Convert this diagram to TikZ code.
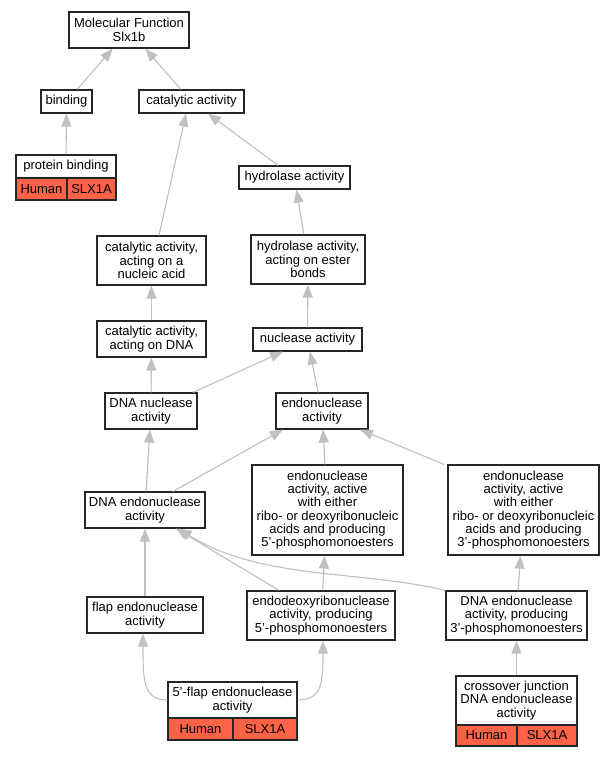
\documentclass[tikz,border=0pt]{standalone}
\usepackage{fontspec}
\setmainfont{Liberation Sans}
\usetikzlibrary{arrows.meta}
\definecolor{edgegray}{HTML}{C0C0C0}
\definecolor{cellred}{HTML}{FF6347}
\begin{document}
\begin{tikzpicture}[x=1pt,y=-1pt,
 box/.style={draw=black!85,line width=1.2pt,fill=white,inner sep=0pt,align=center,font=\fontsize{13}{13.33}\selectfont},
 cell/.style={box,fill=cellred},
 edge/.style={draw=edgegray,line width=1.1pt,-{Triangle[length=13pt,width=10pt]}}
]
\useasboundingbox (0,0) rectangle (613,757);
\fill[white] (0,0) rectangle (613,757);

% nodes
\node[box,minimum width=120pt,minimum height=36pt] (mf) at (129,30) {Molecular Function\\Slx1b};
\node[box,minimum width=51pt,minimum height=23pt] (bind) at (66.5,101.5) {binding};
\node[box,minimum width=105pt,minimum height=23pt] (cat) at (191.5,101.5) {catalytic activity};
\node[box,minimum width=100pt,minimum height=23pt] (pb) at (66,166.5) {protein binding};
\node[cell,minimum width=51pt,minimum height=22pt] (pbh) at (41.5,189) {Human};
\node[cell,minimum width=49pt,minimum height=22pt] (pbs) at (91.5,189) {SLX1A};
\node[box,minimum width=111pt,minimum height=23pt] (hyd) at (294.5,177.5) {hydrolase activity};
\node[box,minimum width=114pt,minimum height=49pt] (ester) at (308,259.5) {hydrolase activity,\\acting on ester\\bonds};
\node[box,minimum width=109pt,minimum height=49pt] (cna) at (151.5,260.5) {catalytic activity,\\acting on a\\nucleic acid};
\node[box,minimum width=109pt,minimum height=36pt] (cdna) at (151.5,339) {catalytic activity,\\acting on DNA};
\node[box,minimum width=109pt,minimum height=23pt] (nuc) at (307.5,339.5) {nuclease activity};
\node[box,minimum width=92pt,minimum height=36pt] (dnanuc) at (151,411) {DNA nuclease\\activity};
\node[box,minimum width=92pt,minimum height=36pt] (endo) at (322,411) {endonuclease\\activity};
\node[box,minimum width=120pt,minimum height=36pt] (dnaendo) at (145,510) {DNA endonuclease\\activity};
\node[box,minimum width=151pt,minimum height=90pt] (e5) at (327.5,510) {endonuclease\\activity, active\\with either\\ribo- or deoxyribonucleic\\acids and producing\\5'-phosphomonoesters};
\node[box,minimum width=151pt,minimum height=90pt] (e3) at (523.5,510) {endonuclease\\activity, active\\with either\\ribo- or deoxyribonucleic\\acids and producing\\3'-phosphomonoesters};
\node[box,minimum width=116pt,minimum height=36pt] (flap) at (145,615) {flap endonuclease\\activity};
\node[box,minimum width=148pt,minimum height=49pt] (ed5) at (321,615.5) {endodeoxyribonuclease\\activity, producing\\5'-phosphomonoesters};
\node[box,minimum width=141pt,minimum height=49pt] (d3) at (516.5,615.5) {DNA endonuclease\\activity, producing\\3'-phosphomonoesters};
\node[box,minimum width=129pt,minimum height=36pt] (f5) at (232.5,700) {5'-flap endonuclease\\activity};
\node[cell,minimum width=65pt,minimum height=22pt] (f5h) at (200.5,729) {Human};
\node[cell,minimum width=64pt,minimum height=22pt] (f5s) at (265,729) {SLX1A};
\node[box,minimum width=121pt,minimum height=49pt] (cj) at (516.5,700.5) {crossover junction\\DNA endonuclease\\activity};
\node[cell,minimum width=61pt,minimum height=21pt] (cjh) at (486.5,735.5) {Human};
\node[cell,minimum width=60pt,minimum height=21pt] (cjs) at (547,735.5) {SLX1A};

% edges
\draw[edge] (bind) -- (mf);
\draw[edge] (cat) -- (mf);
\draw[edge] (pb) -- (bind);
\draw[edge] ([xshift=7.5pt]cna.north) -- ([xshift=-5.5pt]cat.south);
\draw[edge] (hyd) -- (cat);
\draw[edge] (ester) -- (hyd);
\draw[edge] (nuc) -- (ester);
\draw[edge] (cdna) -- (cna);
\draw[edge] (dnanuc) -- (cdna);
\draw[edge] ([xshift=42pt]dnanuc.north) -- ([xshift=-24.5pt]nuc.south);
\draw[edge] (endo) -- (nuc);
\draw[edge] (dnaendo) -- (dnanuc);
\draw[edge] ([xshift=28pt]dnaendo.north) -- ([xshift=-39pt]endo.south);
\draw[edge] (e5) -- (endo);
\draw[edge] ([xshift=-79.5pt]e3.north) -- ([xshift=38pt]endo.south);
\draw[edge] (flap) -- (dnaendo);
\draw[edge] (ed5) -- (dnaendo);
\draw[edge] (ed5) -- (e5);
\draw[edge] (d3.north west) .. controls (360,570) and (260,580) .. ([xshift=-27pt]dnaendo.south east);
\draw[edge] (d3) -- (e3);
\draw[edge] (cj) -- (d3);
\draw[edge] (f5.west) .. controls (143,700) and (143,680) .. ([xshift=-2pt]flap.south);
\draw[edge] (f5.east) .. controls (323,700) and (323,680) .. ([xshift=2pt]ed5.south);
\end{tikzpicture}
\end{document}
